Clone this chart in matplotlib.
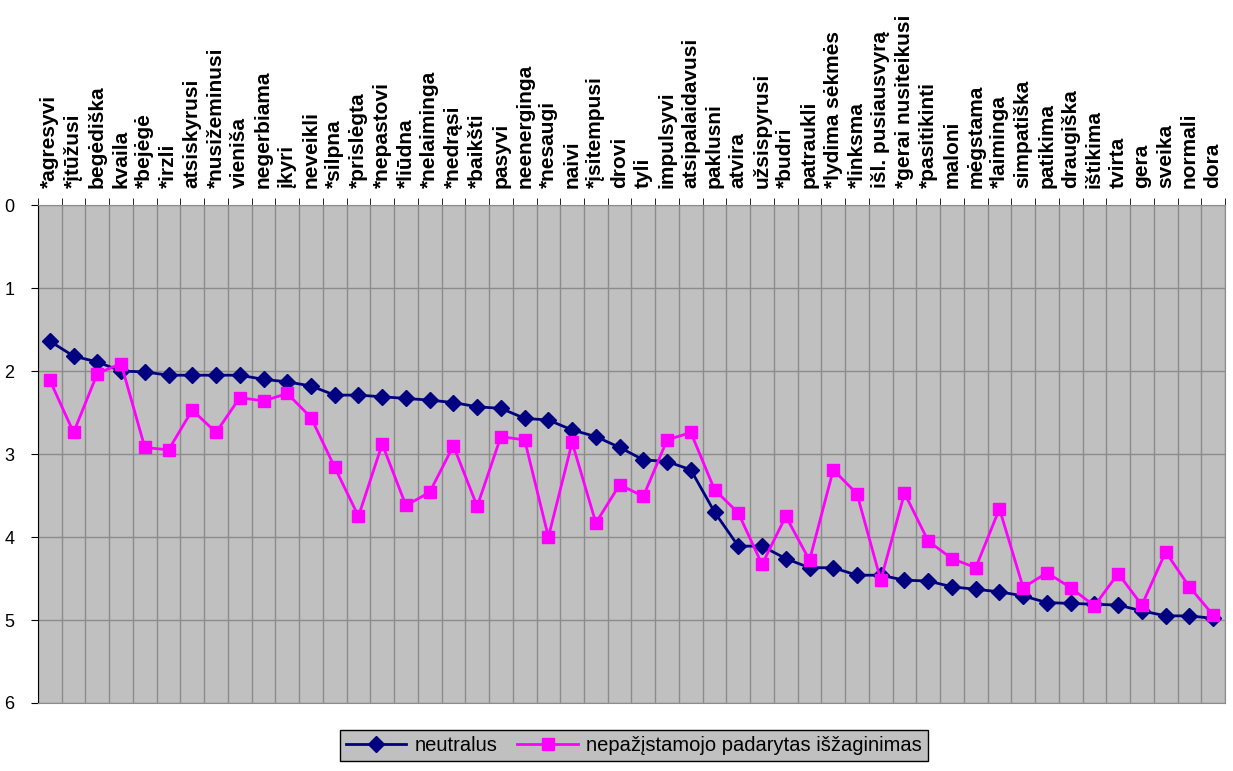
import numpy as np
import matplotlib
matplotlib.use('Agg')
import matplotlib.pyplot as plt

# category labels (shown on top, rotated)
labels = ['*agresyvi', '*įtūžusi', 'begėdiška', 'kvaila', '*bejėgė', '*irzli',
          'atsiskyrusi', '*nusižeminusi', 'vieniša', 'negerbiama', 'įkyri', 'neveikli',
          '*silpna', '*prislėgta', '*nepastovi', '*liūdna', '*nelaiminga', '*nedrąsi',
          '*baikšti', 'pasyvi', 'neenerginga', '*nesaugi', 'naivi', '*įsitempusi',
          'drovi', 'tyli', 'impulsyvi', 'atsipalaidavusi', 'paklusni', 'atvira',
          'užsispyrusi', '*budri', 'patraukli', '*lydima sėkmės', '*linksma',
          'išl. pusiausvyrą', '*gerai nusiteikusi', '*pasitikinti', 'maloni', 'mėgstama',
          '*laiminga', 'simpatiška', 'patikima', 'draugiška', 'ištikima', 'tvirta',
          'gera', 'sveika', 'normali', 'dora']

# series values
neutralus = [1.64, 1.82, 1.89, 2.00, 2.01, 2.05, 2.05, 2.05, 2.05, 2.10,
             2.13, 2.18, 2.29, 2.29, 2.31, 2.33, 2.35, 2.38, 2.43, 2.45,
             2.57, 2.59, 2.71, 2.79, 2.92, 3.07, 3.09, 3.19, 3.70, 4.11,
             4.11, 4.26, 4.37, 4.37, 4.46, 4.46, 4.52, 4.53, 4.60, 4.63,
             4.66, 4.71, 4.79, 4.80, 4.81, 4.82, 4.89, 4.95, 4.95, 4.98]

isazaginimas = [2.11, 2.74, 2.03, 1.91, 2.92, 2.95, 2.47, 2.74, 2.32, 2.36,
                2.27, 2.56, 3.16, 3.75, 2.88, 3.62, 3.46, 2.90, 3.63, 2.79,
                2.83, 4.00, 2.86, 3.83, 3.37, 3.51, 2.83, 2.74, 3.43, 3.71,
                4.33, 3.75, 4.28, 3.19, 3.48, 4.52, 3.47, 4.05, 4.26, 4.37,
                3.66, 4.61, 4.43, 4.61, 4.83, 4.44, 4.82, 4.18, 4.60, 4.94]

series_names = ['neutralus', 'nepažįstamojo padarytas išžaginimas']
y_ticks = [0, 1, 2, 3, 4, 5, 6]


def main():
    plt.rcParams['font.family'] = ['Liberation Sans', 'DejaVu Sans']

    fig = plt.figure(figsize=(12.33, 7.71), dpi=100)
    ax = fig.add_axes([0.0308, 0.0882, 0.9627, 0.6458])

    x = np.arange(len(labels))

    # grey plot area like the old excel charts
    ax.set_facecolor('#C0C0C0')

    ax.plot(x, neutralus, color='#000080', marker='D', markersize=8,
            linewidth=2, label=series_names[0], zorder=3)
    ax.plot(x, isazaginimas, color='#FF00FF', marker='s', markersize=9,
            linewidth=2, label=series_names[1], zorder=3)

    # y axis goes downwards, 0 on top
    ax.set_ylim(6, 0)
    ax.set_yticks(y_ticks)
    ax.set_yticklabels([str(t) for t in y_ticks], fontsize=13)
    ax.yaxis.grid(True, color='#8C8C8C', linewidth=1)

    # labels on top at category centres, grid lines on category borders
    ax.set_xlim(-0.5, len(labels) - 0.5)
    ax.xaxis.tick_top()
    ax.set_xticks(x)
    ax.set_xticklabels(labels, rotation=90, fontsize=15, fontweight='bold',
                       va='bottom', ha='center')
    ax.set_xticks(np.arange(len(labels) + 1) - 0.5, minor=True)
    ax.tick_params(axis='x', which='major', length=0, pad=12)
    ax.tick_params(axis='x', which='minor', length=5, top=True, bottom=False)
    ax.xaxis.grid(True, which='minor', color='#8C8C8C', linewidth=1)
    ax.tick_params(axis='y', length=5, pad=12)
    ax.set_axisbelow(True)

    for side in ['top', 'bottom', 'right']:
        ax.spines[side].set_color('#8C8C8C')
    ax.spines['left'].set_color('black')

    # legend below the chart
    leg = fig.legend(loc='lower center', bbox_to_anchor=(0.514, 0.0), ncol=2,
                     fontsize=14.5, fancybox=False, frameon=True, handlelength=3,
                     borderpad=0.3, columnspacing=1.0, handletextpad=0.4)
    leg.get_frame().set_facecolor('#C0C0C0')
    leg.get_frame().set_edgecolor('black')
    leg.get_frame().set_alpha(1)

    fig.savefig('out.png', dpi=100)


if __name__ == '__main__':
    main()
